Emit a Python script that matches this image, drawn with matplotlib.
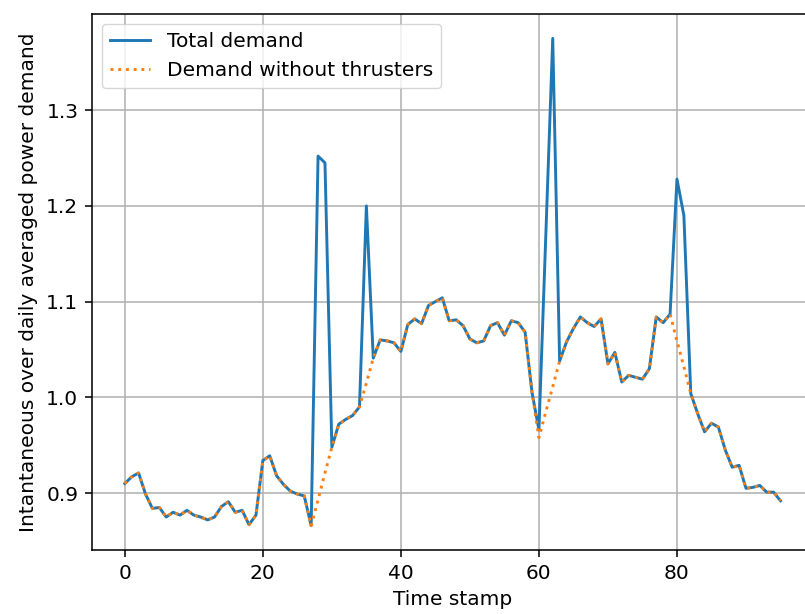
import matplotlib
matplotlib.use("Agg")
import matplotlib.pyplot as plt

# demand normalised by the daily average, one value per time stamp
total_demand = [
    0.910, 0.917, 0.921, 0.899, 0.884, 0.885, 0.875, 0.880, 0.877, 0.882,
    0.877, 0.875, 0.872, 0.875, 0.886, 0.891, 0.880, 0.882, 0.867, 0.877,
    0.934, 0.939, 0.918, 0.909, 0.902, 0.899, 0.897, 0.866, 1.252, 1.245,
    0.948, 0.972, 0.977, 0.981, 0.990, 1.200, 1.041, 1.060, 1.059, 1.057,
    1.048, 1.076, 1.082, 1.077, 1.096, 1.100, 1.104, 1.080, 1.081, 1.075,
    1.061, 1.057, 1.059, 1.075, 1.078, 1.065, 1.080, 1.078, 1.068, 1.005,
    0.966, 1.170, 1.375, 1.038, 1.058, 1.072, 1.084, 1.078, 1.074, 1.082,
    1.035, 1.047, 1.016, 1.023, 1.021, 1.019, 1.030, 1.084, 1.078, 1.087,
    1.228, 1.190, 1.004, 0.983, 0.964, 0.973, 0.969, 0.945, 0.927, 0.929,
    0.905, 0.906, 0.908, 0.901, 0.901, 0.892,
]
no_thrusters = [
    0.910, 0.917, 0.921, 0.899, 0.884, 0.885, 0.875, 0.880, 0.877, 0.882,
    0.877, 0.875, 0.872, 0.875, 0.886, 0.891, 0.880, 0.882, 0.867, 0.877,
    0.934, 0.939, 0.918, 0.909, 0.902, 0.899, 0.897, 0.866, 0.893, 0.921,
    0.948, 0.972, 0.977, 0.981, 0.990, 1.015, 1.041, 1.060, 1.059, 1.057,
    1.048, 1.076, 1.082, 1.077, 1.096, 1.100, 1.104, 1.080, 1.081, 1.075,
    1.061, 1.057, 1.059, 1.075, 1.078, 1.065, 1.080, 1.078, 1.068, 1.005,
    0.958, 0.985, 1.011, 1.038, 1.058, 1.072, 1.084, 1.078, 1.074, 1.082,
    1.035, 1.047, 1.016, 1.023, 1.021, 1.019, 1.030, 1.084, 1.078, 1.087,
    1.059, 1.032, 1.004, 0.983, 0.964, 0.973, 0.969, 0.945, 0.927, 0.929,
    0.905, 0.906, 0.908, 0.901, 0.901, 0.892,
]
time_stamp = list(range(len(total_demand)))

s = 1.4  # scale for the line widths / sizes
plt.rcParams['font.size'] = 14.5
plt.rcParams['axes.linewidth'] = 0.8 * s
plt.rcParams['axes.labelpad'] = 4.0 * s
for a in ('xtick', 'ytick'):
    plt.rcParams[a + '.major.width'] = 0.8 * s
    plt.rcParams[a + '.major.size'] = 3.5 * s
    plt.rcParams[a + '.major.pad'] = 3.5 * s

fig = plt.figure(figsize=(8.05, 6.14), dpi=100)
ax = fig.add_axes([0.1143, 0.1042, 0.896, 0.8730])

ax.plot(time_stamp, total_demand, color='#1f77b4', lw=1.5 * s, label="Total demand")
ax.plot(time_stamp, no_thrusters, color='#ff7f0e', lw=1.5 * s, ls=':',
        label="Demand without thrusters")
ax.grid(True, color='#b0b0b0', lw=0.8 * s)
ax.set_yticks([0.9, 1.0, 1.1, 1.2, 1.3])
ax.set_xlabel("Time stamp")
ax.set_ylabel("Intantaneous over daily averaged power demand")
ax.legend(loc='upper left')

fig.savefig("out.png", dpi=100)
